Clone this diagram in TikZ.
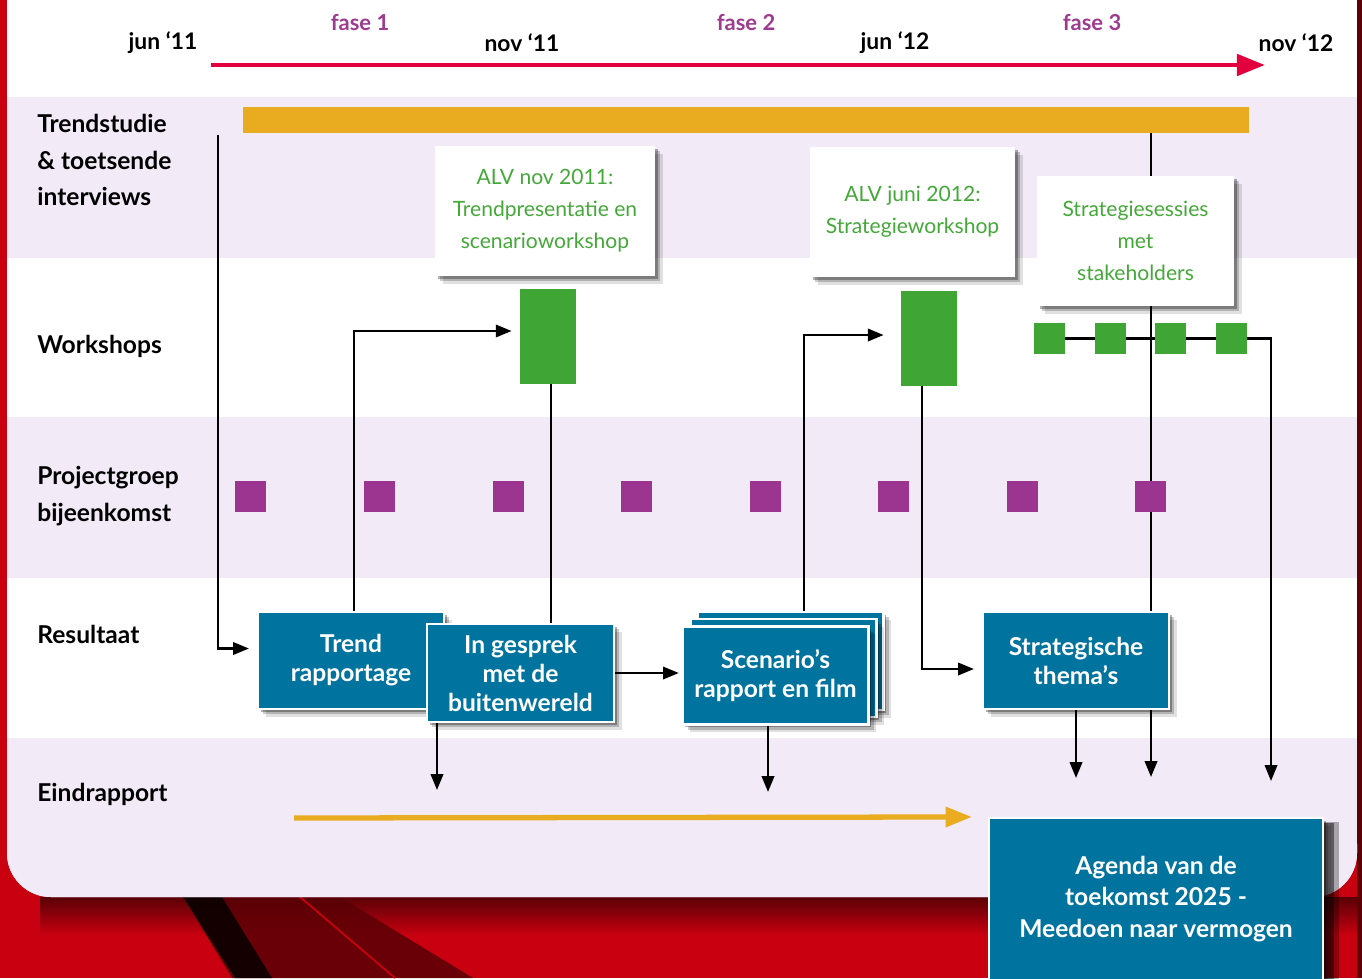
\documentclass[tikz,border=0pt]{standalone}
\usepackage{fontspec}
\setmainfont{Lato}
\usetikzlibrary{arrows.meta,calc,shadows}

\pgfdeclarelayer{backdrop}
\pgfdeclarelayer{wires}
\pgfsetlayers{backdrop,wires,main}

\definecolor{bgred}{HTML}{C8000F}
\definecolor{darkred}{HTML}{5A0006}
\definecolor{band}{HTML}{F2EAF6}
\definecolor{timered}{HTML}{E2003F}
\definecolor{phase}{HTML}{9E3A8F}
\definecolor{trendorange}{HTML}{E9AC20}
\definecolor{wsgreen}{HTML}{3FA535}
\definecolor{evgreen}{HTML}{45A93A}
\definecolor{pgpurple}{HTML}{9B3590}
\definecolor{resblue}{HTML}{00739F}

\begin{document}
\begin{tikzpicture}[x=0.02cm,y=-0.02cm,
        boxshadow/.style={drop shadow={shadow xshift=4.5pt,shadow yshift=-4.5pt,opacity=.12,fill=black},
          drop shadow={shadow xshift=3pt,shadow yshift=-3pt,opacity=.2,fill=black},
          drop shadow={shadow xshift=1.5pt,shadow yshift=-1.5pt,opacity=.3,fill=black}},
        rowlabel/.style={anchor=west,align=left,inner sep=0pt,
          font=\bfseries\fontsize{14}{21}\selectfont},
        datum/.style={inner sep=0pt,font=\bfseries\fontsize{13}{15}\selectfont},
        fase/.style={inner sep=0pt,text=phase,font=\bfseries\fontsize{12.5}{15}\selectfont},
        event/.style={fill=white,text=evgreen,align=center,inner sep=0pt,
          font=\fontsize{12}{18.3}\selectfont,boxshadow},
        result/.style={fill=resblue,draw=white,line width=1.2pt,text=white,align=center,
          inner sep=0pt,minimum width=3.72cm,minimum height=1.94cm,
          font=\bfseries\fontsize{14}{16.5}\selectfont,boxshadow},
        wblock/.style={fill=wsgreen,inner sep=0pt},
        pgsq/.style={fill=pgpurple,inner sep=0pt,minimum size=0.62cm},
        link/.style={line width=1.4pt},
        flow/.style={link,-{Triangle[length=9pt,width=7pt]}}]
        \useasboundingbox (0,0) rectangle (1362,978);

        % backdrop: red page, white panel, row bands
        \begin{pgfonlayer}{backdrop}
        \fill[bgred] (0,0) rectangle (1362,978);
        \fill[darkred] (1357,0) rectangle (1362,978);
        \shade[top color=black!55!bgred,bottom color=bgred] (40,897) rectangle (1357,935);
        \fill[darkred,opacity=.85] (183,897) -- (340,897) -- (473,978) -- (232,978) -- cycle;
        \fill[black,opacity=.8] (183,897) -- (222,897) -- (272,978) -- (235,978) -- cycle;
        \draw[bgred,line width=1pt] (300,897) -- (395,978);
        \fill[white] (7,0) rectangle (1357,850);
        \fill[white,rounded corners=25] (7,800) rectangle (1357,897);
        \fill[band] (7,97) rectangle (1357,258);
        \fill[band] (7,417) rectangle (1357,578);
        \fill[band] (7,738) rectangle (1357,850);
        \fill[band,rounded corners=25] (7,800) rectangle (1357,897);
        \end{pgfonlayer}

        % time line
        \coordinate (t0) at (211,65);
        \coordinate (t1) at (1265,65);
        \draw[timered,line width=2.8pt,-{Triangle[length=16pt,width=12pt]}] (t0) -- (t1);
        \node[datum] (m1) at (163,43) {jun ‘11};
        \node[datum] (m2) at (522,43) {nov ‘11};
        \node[datum] (m3) at (895,43) {jun ‘12};
        \node[datum] (m4) at (1296,43) {nov ‘12};
        \node[fase] (f1) at (360,23) {fase 1};
        \node[fase] (f2) at (746,23) {fase 2};
        \node[fase] (f3) at (1092,23) {fase 3};

        % row labels
        \node[rowlabel] (r1) at (37,160) {Trendstudie\\\& toetsende\\interviews};
        \node[rowlabel] (r2) at (37,346) {Workshops};
        \node[rowlabel] (r3) at (37,496) {Projectgroep\\bijeenkomst};
        \node[rowlabel] (r4) at (37,634) {Resultaat};
        \node[rowlabel] (r5) at (37,794) {Eindrapport};

        \node[fill=trendorange,inner sep=0pt,minimum width=20.12cm,minimum height=0.52cm] (bar) at (746,120) {};

        % ALV and sessions
        \node[event,minimum width=4.4cm,minimum height=2.6cm] (alv1) at (545,211)
          {ALV nov 2011:\\Trendpresentatie en\\scenarioworkshop};
        \node[event,minimum width=4.1cm,minimum height=2.6cm] (alv2) at (912.5,212)
          {ALV juni 2012:\\Strategieworkshop};
        \node[event,minimum width=3.94cm,minimum height=2.6cm] (sess) at (1135.5,241)
          {Strategiesessies\\met\\stakeholders};

        % workshops
        \node[wblock,minimum width=1.12cm,minimum height=1.9cm] (ws1) at (548,336.5) {};
        \node[wblock,minimum width=1.12cm,minimum height=1.9cm] (ws2) at (929,338.5) {};
        \foreach \x [count=\i] in {1049.5,1110.5,1170.5,1231.5}
          \node[wblock,minimum size=0.62cm] (s\i) at (\x,338.5) {};

        % projectgroep
        \foreach \x [count=\i] in {250.5,379.5,508.5,636.5,765.5,893.5,1022.5,1150.5}
          \node[pgsq] (p\i) at (\x,496.5) {};

        % results
        \node[result] (trend) at (351,660.5) {Trend\\rapportage};
        \node[result,minimum width=3.74cm,minimum height=1.96cm] (gesprek) at (520.5,673)
          {In gesprek\\met de\\buitenwereld};
        \node[result,minimum height=1.96cm] (sc3) at (790.5,661) {};
        \node[result,minimum height=1.96cm] (sc2) at (783.5,668) {};
        \node[result,minimum height=1.96cm] (scen) at (775.5,675.5) {Scenario’s\\rapport en film};
        \node[result] (strat) at (1076,660.5) {Strategische\\thema’s};
        \node[result,minimum width=6.68cm,minimum height=3.24cm,
          font=\bfseries\fontsize{14}{18}\selectfont,
          drop shadow={shadow xshift=9pt,shadow yshift=-2pt,opacity=.3,fill=black},
          drop shadow={shadow xshift=6pt,shadow yshift=-3pt,opacity=.45,fill=black}]
          (agenda) at (1156,899) {Agenda van de\\toekomst 2025 -\\Meedoen naar vermogen};

        % connectors
        \begin{pgfonlayer}{wires}
        \coordinate (c0) at (218,135);
        \draw[flow] (c0) |- ($(trend.west)+(-8,-12)$);
        \draw[flow] ($(trend.north)+(3,0)$) |- ($(ws1.west)+(-8,-5.5)$);
        \draw[link] ($(ws1.south)+(3,0)$) -- ($(ws1.south |- gesprek.north)+(3,0)$);
        \draw[flow,shorten >=1.5pt] (gesprek.east) -- (gesprek.east -| scen.west);
        \draw[flow] ($(sc3.north)+(13.5,0)$) |- ($(ws2.west)+(-17,-3.5)$);
        \draw[flow] ($(ws2.south)+(-7,0)$) |- ($(strat.west)+(-8,8.5)$);
        \coordinate (e3) at (1151,777);
        \draw[flow] (bar.south -| e3) -- (e3);
        \draw[link] (s1) -- (s4);
        \coordinate (e4) at (1271,781);
        \draw[flow] (s4.east) -| (e4);
        \coordinate (e1) at (437,790);
        \draw[flow] (gesprek.south -| e1) -- (e1);
        \coordinate (e2) at (768,792);
        \draw[flow] (scen.south -| e2) -- (e2);
        \coordinate (e5) at (1076,778);
        \draw[flow] (strat.south) -- (e5);
        \coordinate (o0) at (294,818);
        \draw[trendorange,line width=3pt,-{Triangle[length=15pt,width=11pt]}]
          (o0) -- ($(agenda.north west)+(-16,0)$);
        \end{pgfonlayer}
\end{tikzpicture}
\end{document}
